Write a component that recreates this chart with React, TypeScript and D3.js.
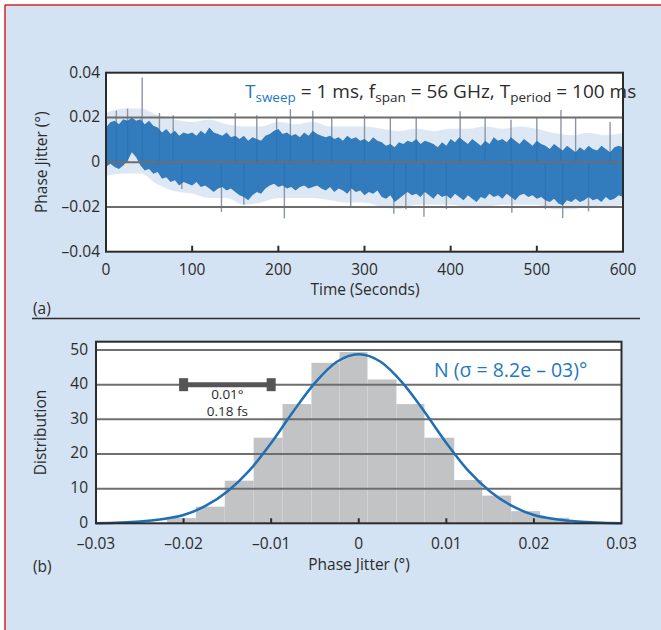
import React from "react";
import * as d3 from "d3";

// ---- (a) phase jitter vs time: dense-noise envelope read every 5 s ----
const timeKnots = d3.range(0, 601, 5);
const coreHigh = [
  0.0155, 0.0178, 0.0185, 0.017, 0.0192, 0.0185, 0.02, 0.0185, 0.0192, 0.017,
  0.0185, 0.0163, 0.0155, 0.0133, 0.0148, 0.0126, 0.0141, 0.0118, 0.0133, 0.0126,
  0.0133, 0.0118, 0.0141, 0.0126, 0.0155, 0.0133, 0.0126, 0.0118, 0.0133, 0.0111,
  0.0118, 0.0104, 0.0118, 0.0096, 0.0111, 0.0104, 0.0096, 0.0118, 0.0126, 0.0141,
  0.0148, 0.0126, 0.0133, 0.0118, 0.0126, 0.0111, 0.0133, 0.0118, 0.0141, 0.0126,
  0.0118, 0.0111, 0.0118, 0.0104, 0.0111, 0.0096, 0.0118, 0.0104, 0.0111, 0.0096,
  0.0104, 0.0089, 0.0111, 0.0096, 0.0089, 0.0074, 0.0081, 0.0067, 0.0089, 0.0081,
  0.0096, 0.0089, 0.0104, 0.0081, 0.0096, 0.0089, 0.0081, 0.0067, 0.0089, 0.0074,
  0.0104, 0.0089, 0.0111, 0.0096, 0.0081, 0.0104, 0.0089, 0.0074, 0.0096, 0.0081,
  0.0111, 0.0096, 0.0104, 0.0089, 0.0111, 0.0096, 0.0081, 0.0104, 0.0089, 0.0074,
  0.0096, 0.0081, 0.0074, 0.0059, 0.0081, 0.0067, 0.0052, 0.0074, 0.0059, 0.0044,
  0.0067, 0.0052, 0.0074, 0.0059, 0.0052, 0.0074, 0.0059, 0.0044, 0.0067, 0.0074,
  0.0067,
];
const coreLow = [
  -0.0022, -0.0007, -0.0022, -0.003, -0.0015, 0.0007, 0.0044, 0.0022, -0.0015, -0.0037,
  -0.003, -0.0052, -0.0044, -0.0074, -0.0067, -0.0089, -0.0081, -0.0104, -0.0089, -0.0096,
  -0.0104, -0.0089, -0.0111, -0.0104, -0.0118, -0.0133, -0.0118, -0.0111, -0.0126, -0.0118,
  -0.0133, -0.0148, -0.0155, -0.017, -0.0148, -0.0133, -0.0141, -0.0118, -0.0104, -0.0096,
  -0.0111, -0.0104, -0.0118, -0.0111, -0.0126, -0.0111, -0.0104, -0.0118, -0.0111, -0.0104,
  -0.0118, -0.0126, -0.0111, -0.0133, -0.0118, -0.0126, -0.0141, -0.0118, -0.0133, -0.0126,
  -0.0148, -0.0133, -0.0141, -0.0126, -0.0155, -0.0163, -0.0148, -0.0178, -0.0163, -0.0148,
  -0.0133, -0.0148, -0.0141, -0.0155, -0.0133, -0.0148, -0.0163, -0.0141, -0.0155, -0.0148,
  -0.0163, -0.0141, -0.0155, -0.017, -0.0148, -0.0163, -0.0178, -0.0155, -0.0163, -0.0141,
  -0.0155, -0.0148, -0.0163, -0.0141, -0.0155, -0.017, -0.0148, -0.0141, -0.0155, -0.0148,
  -0.0163, -0.0155, -0.017, -0.0178, -0.0163, -0.0185, -0.0192, -0.017, -0.0178, -0.0163,
  -0.0178, -0.017, -0.0155, -0.017, -0.0163, -0.0178, -0.0155, -0.017, -0.0163, -0.0148,
  -0.0155,
];

// lighter fringe, read every 20 s
const fringeKnots = d3.range(0, 601, 20);
const fringeHigh = [
  0.022, 0.024, 0.024, 0.021, 0.019, 0.018, 0.019, 0.017, 0.016, 0.016, 0.018,
  0.017, 0.018, 0.016, 0.016, 0.016, 0.015, 0.014, 0.015, 0.014, 0.015, 0.015,
  0.016, 0.015, 0.016, 0.015, 0.013, 0.012, 0.013, 0.012, 0.013,
];
const fringeLow = [
  -0.006, -0.005, -0.005, -0.01, -0.013, -0.014, -0.016, -0.016, -0.019, -0.018, -0.016,
  -0.016, -0.016, -0.017, -0.018, -0.018, -0.02, -0.021, -0.019, -0.019, -0.019, -0.02,
  -0.02, -0.019, -0.019, -0.019, -0.021, -0.021, -0.02, -0.02, -0.019,
];

// isolated spikes
const spikeTimes = [
  12, 25, 42, 62, 78, 150, 175, 198, 214, 240, 262, 300, 330, 360, 411, 440, 470, 500, 528, 545, 585,
  88, 134, 160, 207, 284, 334, 348, 369, 395, 471, 510, 530, 560,
];
const spikeValues = [
  0.023, 0.024, 0.0378, 0.022, 0.021, 0.022, 0.021, 0.02, 0.0237, 0.023, 0.02, 0.021, 0.02, 0.02, 0.0228, 0.02, 0.019, 0.02, 0.0233, 0.02, 0.018,
  -0.012, -0.0222, -0.019, -0.0251, -0.02, -0.023, -0.021, -0.0244, -0.021, -0.0226, -0.021, -0.025, -0.022,
];

const timeTicks = [0, 100, 200, 300, 400, 500, 600];
const jitterTicks = [-0.04, -0.02, 0, 0.02, 0.04];
const jitterTickLabels = ["–0.04", "–0.02", "0", "0.02", "0.04"];
const jitterGrid = [-0.02, 0, 0.02];

// ---- (b) histogram ----
const binEdges = [
  -0.0219, -0.0186, -0.0153, -0.012, -0.0087, -0.0054, -0.0022, 0.001, 0.0043, 0.0075,
  0.0109, 0.0141, 0.0174, 0.0207, 0.024,
];
const binCounts = [1.5, 4.8, 12.3, 24.7, 34.4, 46.3, 49.4, 41.5, 34.4, 24.7, 12.5, 8.0, 3.5, 1.6];

const fitX = [
  -0.03, -0.025, -0.0225, -0.02, -0.0175, -0.015, -0.0125, -0.01, -0.0075, -0.005, -0.0025, 0,
  0.0025, 0.005, 0.0075, 0.01, 0.0125, 0.015, 0.0175, 0.02, 0.0225, 0.025, 0.03,
];
const fitY = [
  0.0, 0.5, 1.2, 2.4, 5.0, 9.2, 15.2, 23.2, 32.2, 40.5, 46.6, 48.8,
  46.6, 40.5, 32.2, 23.2, 15.2, 9.2, 5.0, 2.4, 1.2, 0.5, 0.0,
];

const distTicks = [0, 10, 20, 30, 40, 50];
const phaseTicks = [-0.03, -0.02, -0.01, 0, 0.01, 0.02, 0.03];
const phaseTickLabels = ["–0.03", "–0.02", "–0.01", "0", "0.01", "0.02", "0.03"];

const FONT = "'Open Sans', 'Noto Sans', sans-serif";
const INK = "#2b2b2b";
const GRID = "#6e6e6e";
const BLUE = "#1f6fb6";
const LABEL_BLUE = "#1f78c1";

export default function App() {
  // (a) scales
  const xT = d3.scaleLinear().domain([0, 600]).range([106, 623]);
  const yJ = d3.scaleLinear().domain([-0.04, 0.04]).range([251.7, 72.7]);

  const core = d3
    .area<number>()
    .x((d) => xT(d))
    .y0((_, i) => yJ(coreLow[i]))
    .y1((_, i) => yJ(coreHigh[i]));

  const fringe = d3
    .area<number>()
    .x((d) => xT(d))
    .y0((_, i) => yJ(fringeLow[i]))
    .y1((_, i) => yJ(fringeHigh[i]))
    .curve(d3.curveMonotoneX);

  // (b) scales
  const xP = d3.scaleLinear().domain([-0.03, 0.03]).range([96, 621.5]);
  const yD = d3.scaleLinear().domain([0, 52.4]).range([523.3, 341.7]);

  const fit = d3
    .line<number>()
    .x((d) => xP(d))
    .y((_, i) => yD(fitY[i]))
    .curve(d3.curveMonotoneX);

  const [tA0, tA1] = xT.range();
  const [jB, jT] = yJ.range();
  const [pA0, pA1] = xP.range();
  const [dB, dT] = yD.range();

  return (
    <svg
      width={661}
      height={630}
      style={{ position: "absolute", left: 0, top: 0 }}
      fontFamily={FONT}
    >
      <rect x={0} y={0} width={661} height={630} fill="#ffffff" />
      <rect x={5} y={5} width={656} height={625} fill="#d4e3f3" />
      <line x1={5} x2={661} y1={5} y2={5} stroke="#d6222a" strokeWidth={1.5} />
      <line x1={5} x2={5} y1={5} y2={630} stroke="#d6222a" strokeWidth={1.5} />

      {/* ---------- panel (a) ---------- */}
      <rect x={tA0} y={jT} width={tA1 - tA0} height={jB - jT} fill="#fff" />
      <path d={fringe(fringeKnots) ?? ""} fill="#9dbde0" opacity={0.35} />
      {spikeTimes.map((t, i) => (
        <line
          key={"s" + i}
          x1={xT(t)}
          x2={xT(t)}
          y1={yJ(0)}
          y2={yJ(spikeValues[i])}
          stroke="#8a96a6"
          strokeWidth={1.4}
        />
      ))}
      <path d={core(timeKnots) ?? ""} fill={BLUE} opacity={0.9} />
      {jitterGrid.map((v) => (
        <line key={v} x1={tA0} x2={tA1} y1={yJ(v)} y2={yJ(v)} stroke={GRID} strokeWidth={2} />
      ))}
      <rect
        x={tA0}
        y={jT}
        width={tA1 - tA0}
        height={jB - jT}
        fill="none"
        stroke={INK}
        strokeWidth={2}
      />
      {timeTicks.slice(1, -1).map((t) => (
        <line key={t} x1={xT(t)} x2={xT(t)} y1={jB} y2={jB - 6} stroke={INK} strokeWidth={2} />
      ))}
      {timeTicks.map((t) => (
        <text key={t} x={xT(t)} y={275} textAnchor="middle" fontSize={15.5} fill={INK}>
          {t}
        </text>
      ))}
      {jitterTicks.map((v, i) => (
        <text key={v} x={100} y={yJ(v) + 5} textAnchor="end" fontSize={15.5} fill={INK}>
          {jitterTickLabels[i]}
        </text>
      ))}
      <text x={365} y={295} textAnchor="middle" fontSize={15.5} fill={INK}>
        Time (Seconds)
      </text>
      <text
        transform={`translate(47,${(jT + jB) / 2}) rotate(-90)`}
        textAnchor="middle"
        fontSize={15.5}
        fill={INK}
      >
        Phase Jitter (°)
      </text>
      <text x={245} y={98} fontSize={19} fill={INK}>
        <tspan fill={LABEL_BLUE}>T</tspan>
        <tspan fill={LABEL_BLUE} fontSize={13.5} dy={4}>
          sweep
        </tspan>
        <tspan dy={-4}> = 1 ms, f</tspan>
        <tspan fontSize={13.5} dy={4}>
          span
        </tspan>
        <tspan dy={-4}> = 56 GHz, T</tspan>
        <tspan fontSize={13.5} dy={4}>
          period
        </tspan>
        <tspan dy={-4}> = 100 ms</tspan>
      </text>
      <text x={33} y={314} fontSize={15.5} fill={INK}>
        (a)
      </text>
      <line x1={32} x2={640} y1={318.5} y2={318.5} stroke={INK} strokeWidth={1.5} />

      {/* ---------- panel (b) ---------- */}
      <rect x={pA0} y={dT} width={pA1 - pA0} height={dB - dT} fill="#fff" />
      {binCounts.map((c, i) => (
        <rect
          key={"b" + i}
          x={xP(binEdges[i])}
          y={yD(c)}
          width={xP(binEdges[i + 1]) - xP(binEdges[i])}
          height={dB - yD(c)}
          fill="#c2c3c5"
        />
      ))}
      {distTicks.slice(1).map((v) => (
        <line key={v} x1={pA0} x2={pA1} y1={yD(v)} y2={yD(v)} stroke={GRID} strokeWidth={2} />
      ))}
      <path d={fit(fitX) ?? ""} fill="none" stroke={BLUE} strokeWidth={2.5} />
      <rect
        x={pA0}
        y={dT}
        width={pA1 - pA0}
        height={dB - dT}
        fill="none"
        stroke={INK}
        strokeWidth={2}
      />
      {phaseTicks.slice(1, -1).map((v) => (
        <line key={v} x1={xP(v)} x2={xP(v)} y1={dB} y2={dB - 5} stroke={INK} strokeWidth={2} />
      ))}
      {phaseTicks.map((v, i) => (
        <text key={v} x={xP(v)} y={549} textAnchor="middle" fontSize={15.5} fill={INK}>
          {phaseTickLabels[i]}
        </text>
      ))}
      {distTicks.map((v) => (
        <text key={v} x={88} y={yD(v) + 4.5} textAnchor="end" fontSize={15.5} fill={INK}>
          {v}
        </text>
      ))}
      <text x={359} y={570} textAnchor="middle" fontSize={15.5} fill={INK}>
        Phase Jitter (°)
      </text>
      <text
        transform={`translate(46,${(dT + dB) / 2}) rotate(-90)`}
        textAnchor="middle"
        fontSize={15.5}
        fill={INK}
      >
        Distribution
      </text>
      <text x={33} y={572} fontSize={15.5} fill={INK}>
        (b)
      </text>

      {/* scale bar: 0.01° */}
      <line x1={xP(-0.02)} x2={xP(-0.01)} y1={yD(40)} y2={yD(40)} stroke="#555" strokeWidth={5} />
      {[-0.02, -0.01].map((v) => (
        <rect key={v} x={xP(v) - 4.5} y={yD(40) - 6.5} width={9} height={13} fill="#555" />
      ))}
      <text x={xP(-0.015)} y={399} textAnchor="middle" fontSize={13.5} fill={INK}>
        0.01°
      </text>
      <text x={xP(-0.015)} y={416} textAnchor="middle" fontSize={13.5} fill={INK}>
        0.18 fs
      </text>

      <text x={434} y={377} fontSize={19.5} fill={LABEL_BLUE}>
        N (σ = 8.2e – 03)°
      </text>
    </svg>
  );
}
